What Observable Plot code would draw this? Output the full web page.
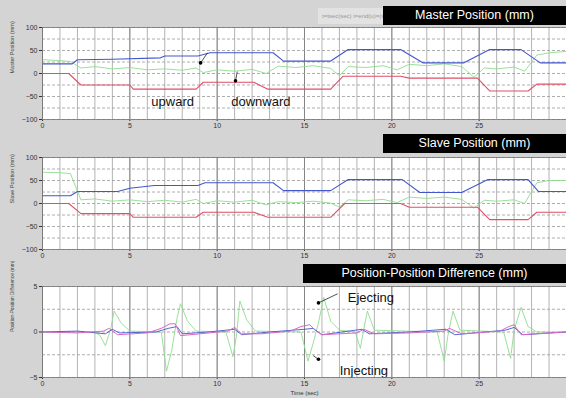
<!DOCTYPE html>
<html><head><meta charset="utf-8">
<script src="https://cdn.jsdelivr.net/npm/d3@7"></script>
<script src="https://cdn.jsdelivr.net/npm/@observablehq/plot@0.6"></script>
<style>
body{margin:0;background:#d4d4d4;}
#fig{position:relative;width:566px;height:398px;background:#d4d4d4;overflow:hidden;font-family:"Liberation Sans",Arial,sans-serif;}
.panel{position:absolute;left:0;}
.tbox{position:absolute;background:#000;color:#fff;font-size:12.5px;line-height:19px;height:19px;text-align:center;white-space:nowrap;}
.note{position:absolute;background:#e2e2e2;color:#999;font-size:6px;line-height:16px;height:16px;padding:0 4px;white-space:nowrap;}
</style></head>
<body><div id="fig"></div>
<script>
// ---- time axis ----
const timeTicks = [0, 5, 10, 15, 20, 25];
const timeMajor = [0, 5, 10, 15, 20, 25, 30];
const timeGrid = [0,1,2,3,4,5,6,7,8,9,10,11,12,13,14,15,16,17,18,19,20,21,22,23,24,25,26,27,28,29,30];

// ---- Master position (mm) ----
const masterTicks = [-100, -50, 0, 50, 100];
const masterGrid = [-100, -75, -50, -25, 0, 25, 50, 75, 100];
const masterBlueT = [0, 1.7, 2.0, 4.0, 6.75, 7.0, 8.9, 9.6, 13.2, 13.8, 16.5, 17.5, 20.5, 21.8, 24.1, 25.6, 27.4, 28.5, 30];
const masterBlueV = [21, 21, 30, 31, 34, 38, 38, 45, 45, 27, 27, 52, 52, 23, 23, 52, 52, 23, 23];
const masterRedT = [0, 1.5, 2.2, 5.0, 5.2, 8.8, 9.2, 12.1, 12.9, 16.5, 17.2, 20.5, 21.0, 24.9, 25.6, 27.8, 28.3, 30];
const masterRedV = [0, 0, -25, -25, -34, -34, -19, -19, -34, -34, -6, -6, -10, -10, -38, -38, -23, -23];
const masterGreenT = [0, 1, 1.6, 2.2, 3, 4, 5, 6, 7, 8, 8.8, 9.2, 10, 11, 12, 12.8, 13.5, 14.5, 15.5, 16.5, 17, 17.5, 18.5, 19.5, 20.3, 21, 22, 23, 24, 24.7, 25.3, 26, 27, 27.6, 28.3, 29, 30];
const masterGreenV = [30, 28, 26, 12, 15, 10, 13, 8, 10, 7, 12, 2, 8, 5, 9, 0, 16, 13, 17, 11, -5, 15, 13, 17, 8, 20, 17, 21, 15, -8, 12, 10, 14, 5, 40, 45, 48];

// ---- Slave position (mm) ----
const slaveBlueT = [0, 1.6, 2.0, 4.3, 5.0, 6.4, 8.9, 9.3, 13.2, 13.8, 16.5, 17.5, 20.6, 21.6, 24.0, 25.5, 27.8, 28.4, 30];
const slaveBlueV = [17, 17, 26, 26, 33, 39, 39, 45, 45, 28, 28, 52, 52, 24, 24, 52, 52, 26, 26];
const slaveRedT = [0, 1.5, 2.2, 5.0, 5.2, 8.8, 9.2, 12.1, 12.9, 16.5, 17.3, 20.5, 21.0, 24.9, 25.6, 27.8, 28.3, 30];
const slaveRedV = [0, 0, -22, -22, -30, -30, -19, -19, -30, -30, 0, 0, -8, -8, -35, -35, -19, -19];
const slaveGreenT = [0, 1, 1.6, 2.2, 3, 4, 5, 6, 7, 8, 8.8, 9.2, 10, 11, 12, 12.8, 13.5, 14.5, 15.5, 16.5, 17, 17.5, 18.5, 19.5, 20.3, 21, 22, 23, 24, 24.7, 25.3, 26, 27, 27.6, 28.3, 29, 30];
const slaveGreenV = [68, 67, 65, 8, 10, 5, 8, 4, 7, 3, 9, 0, 6, 3, 7, -3, 4, 2, 5, 1, -8, 8, 6, 9, 2, 14, 11, 14, 9, -10, 7, 5, 8, 0, 45, 50, 50];

// ---- Position-position difference (mm) ----
const diffTicks = [-5, 0, 5];
const diffGrid = [-5, -2.5, 0, 2.5, 5];
const diffGreenT = [0, 3.0, 3.3, 3.6, 3.9, 4.1, 4.5, 5.0, 6.8, 7.1, 7.4, 7.7, 7.9, 8.3, 8.8, 10.5, 10.9, 11.1, 11.3, 11.7, 12.2, 14.8, 15.2, 15.5, 15.8, 16.1, 16.5, 17.0, 17.9, 18.2, 18.4, 18.6, 19.0, 22.6, 23.0, 23.2, 23.5, 23.9, 26.4, 26.8, 27.0, 27.4, 27.8, 28.3, 30];
const diffGreenV = [0, 0, -0.4, -1.5, 0.3, 2.3, 1.0, 0.1, 0, -4.3, -2.0, 1.5, 3.1, 1.2, 0.1, 0, -2.7, -0.5, 3.4, 1.3, 0.1, 0, -3.2, -1.2, 1.0, 3.8, 1.2, 0.2, 0, -1.8, 0.4, 2.3, 0.2, 0, -3.2, -0.5, 2.3, 0.2, 0, -2.9, 0.2, 2.7, 0.6, 0, 0];
const diffRedT = [0, 2, 3.5, 3.8, 4.3, 6, 6.8, 7.3, 7.6, 7.9, 9, 10.6, 11.0, 11.4, 12.5, 14.2, 14.8, 15.3, 15.6, 16, 18, 18.4, 19, 21, 23, 23.3, 24, 26.2, 26.7, 27.0, 27.4, 29, 30];
const diffRedV = [0, -0.1, 0.1, 0.4, -0.3, -0.1, 0.4, 0.9, 0.9, -0.4, -0.2, 0.1, 0.5, -0.2, -0.2, 0.1, 0.6, 0.8, 0.2, -0.3, -0.1, 0.3, -0.2, -0.1, 0.1, 0.4, -0.2, 0.1, 0.6, 0.8, -0.3, -0.1, 0];
const diffBlueT = [0, 2, 3.6, 4.0, 4.4, 6.5, 7.2, 7.7, 8.0, 9.5, 11.0, 11.4, 13, 15.0, 15.5, 16.0, 18.3, 18.7, 21, 23.1, 23.6, 26.5, 27.0, 27.5, 30];
const diffBlueV = [0, 0.1, -0.2, 0.3, -0.1, 0, 0.4, 0.6, -0.2, 0, 0.3, -0.3, 0, 0.3, 0.4, -0.3, 0.3, -0.2, 0, 0.3, -0.3, 0.2, 0.5, -0.3, 0];

// ---- annotations ----
const masterNotes = ["upward", "downward"];
const masterNoteT = [7.45, 12.5];
const masterNoteV = [-62, -62];
const masterArrowT1 = [9.05, 11.05];
const masterArrowV1 = [23, -16];
const masterArrowT2 = [9.45, 11.15];
const masterArrowV2 = [45, 4];
const diffNotes = ["Ejecting", "Injecting"];
const diffNoteT = [18.8, 18.4];
const diffNoteV = [3.8, -4.3];
const diffArrowT1 = [15.8, 15.8];
const diffArrowV1 = [3.2, -3.0];
const diffArrowT2 = [16.9, 15.5];
const diffArrowV2 = [4.2, -2.6];

const COL = {blue: "#4257cc", red: "#e0506a", green: "#8fdc8f", pink: "#d868c8"};

function rows(t, v) { return t.map((d, i) => ({t: d, v: v[i]})); }

function panel(o) {
  return Plot.plot({
    width: 566, height: o.height,
    marginLeft: 42, marginRight: 0, marginTop: o.marginTop, marginBottom: o.marginBottom,
    style: {background: "transparent", fontFamily: "Liberation Sans, Arial, sans-serif", fontSize: "7px", color: "#333"},
    x: {domain: [0, 30], ticks: timeTicks, tickSize: 2, tickPadding: 2, label: null},
    y: {domain: o.yDomain, ticks: o.yTicks, tickSize: 3, tickPadding: 2, label: null},
    marks: [
      Plot.frame({fill: "white"}),
      Plot.ruleX(timeGrid, {stroke: "#a0a0a0", strokeWidth: 0.8}),
      Plot.ruleX(timeMajor, {stroke: "#808080", strokeWidth: 0.9}),
      Plot.ruleY(o.yGrid, {stroke: "#999", strokeWidth: 0.8, strokeDasharray: "3,2"}),
      ...o.series.map(s => Plot.line(rows(s.t, s.v), {x: "t", y: "v", stroke: s.color, strokeWidth: s.w || 1.1})),
      ...(o.extra || []),
      Plot.text([o.label], {frameAnchor: "left", rotate: -90, dx: -30, fontSize: o.labelSize || 5.5, fill: "#444"}),
      Plot.frame({stroke: "#777", strokeWidth: 0.8})
    ]
  });
}

function arrows(t1, v1, t2, v2) {
  const d = t1.map((t, i) => ({t1: t, v1: v1[i], t2: t2[i], v2: v2[i]}));
  return [
    Plot.link(d, {x1: "t1", y1: "v1", x2: "t2", y2: "v2", stroke: "#222", strokeWidth: 0.8}),
    Plot.dot(d, {x: "t1", y: "v1", r: 1.8, fill: "#000"})
  ];
}
function notes(labels, t, v, size) {
  return Plot.text(labels.map((l, i) => ({l, t: t[i], v: v[i]})), {x: "t", y: "v", text: "l", fontSize: size, fill: "#111"});
}

const fig = document.getElementById("fig");
function place(node, top) {
  const wrap = document.createElement("div");
  wrap.className = "panel"; wrap.style.top = top + "px";
  wrap.appendChild(node); fig.appendChild(wrap);
}

place(panel({
  height: 130, marginTop: 27, marginBottom: 11,
  yDomain: [-100, 100], yTicks: masterTicks, yGrid: masterGrid,
  label: "Master Position (mm)",
  series: [
    {t: masterGreenT, v: masterGreenV, color: COL.green, w: 0.9},
    {t: masterRedT, v: masterRedV, color: COL.red},
    {t: masterBlueT, v: masterBlueV, color: COL.blue}
  ],
  extra: [...arrows(masterArrowT1, masterArrowV1, masterArrowT2, masterArrowV2), notes(masterNotes, masterNoteT, masterNoteV, 13)]
}), 0);

place(panel({
  height: 130, marginTop: 27, marginBottom: 11,
  yDomain: [-100, 100], yTicks: masterTicks, yGrid: masterGrid,
  label: "Slave Position (mm)",
  series: [
    {t: slaveGreenT, v: slaveGreenV, color: COL.green, w: 0.9},
    {t: slaveRedT, v: slaveRedV, color: COL.red},
    {t: slaveBlueT, v: slaveBlueV, color: COL.blue}
  ]
}), 130);

const p3 = panel({
  height: 138, marginTop: 26, marginBottom: 21,
  yDomain: [-5, 5], yTicks: diffTicks, yGrid: diffGrid,
  label: "Position-Position Difference (mm)", labelSize: 4.8,
  series: [
    {t: diffGreenT, v: diffGreenV, color: COL.green, w: 0.9},
    {t: diffBlueT, v: diffBlueV, color: COL.blue, w: 0.9},
    {t: diffRedT, v: diffRedV, color: COL.pink, w: 1}
  ],
  extra: [...arrows(diffArrowT1, diffArrowV1, diffArrowT2, diffArrowV2), notes(diffNotes, diffNoteT, diffNoteV, 13),
    Plot.text(["Time (sec)"], {frameAnchor: "bottom", dy: 17, fontSize: 6, fill: "#333"})]
});
place(p3, 260);

function box(cls, text, left, top, width) {
  const b = document.createElement("div");
  b.className = cls; b.textContent = text;
  b.style.left = left + "px"; b.style.top = top + "px"; b.style.width = width + "px";
  fig.appendChild(b);
}
box("note", "t=tsec(sec)  t=end(u)=(sec)", 318, 8, 57);
box("tbox", "Master Position (mm)", 383, 6, 183);
box("tbox", "Slave Position (mm)", 383, 134, 183);
box("tbox", "Position-Position Difference (mm)", 303, 264, 263);
</script></body></html>
